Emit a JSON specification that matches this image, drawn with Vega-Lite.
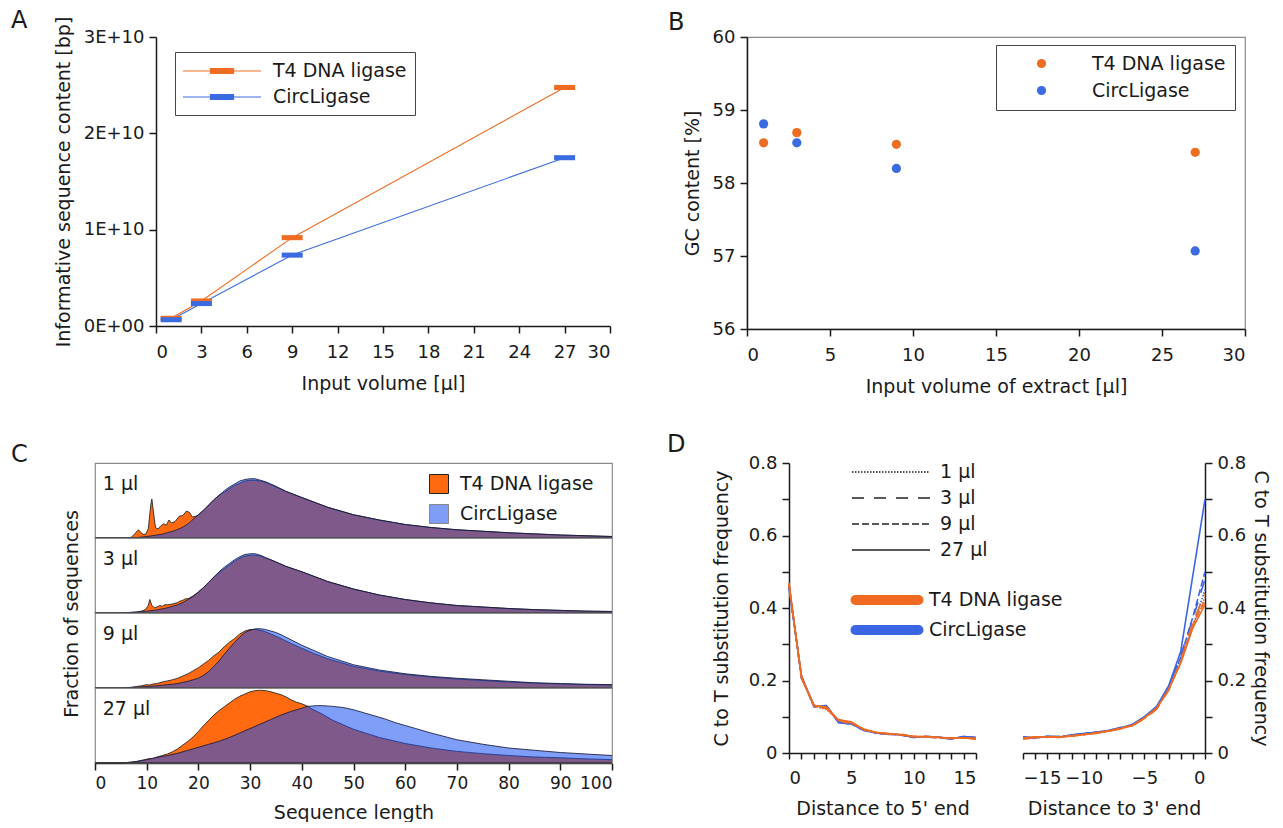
{
 "$schema": "https://vega.github.io/schema/vega-lite/v6.json",
 "background": "white",
 "padding": {"left": 11, "top": 9, "right": 0, "bottom": 0},
 "config": {
  "font": "DejaVu Sans",
  "view": {"stroke": "#8a8a8a", "strokeWidth": 1.2},
  "axis": {"labelFont": "DejaVu Sans", "titleFont": "DejaVu Sans", "labelFontSize": 18, "titleFontSize": 19, "titleFontWeight": "normal", "labelColor": "#1a1a1a", "titleColor": "#1a1a1a", "domainColor": "#1a1a1a", "tickColor": "#1a1a1a", "domainWidth": 1.5, "tickWidth": 1.5, "tickSize": 7, "labelPadding": 5, "titlePadding": 10, "grid": false},
  "legend": {"labelFont": "DejaVu Sans", "labelFontSize": 19, "labelColor": "#1a1a1a", "titleFont": "DejaVu Sans"},
  "title": {"font": "DejaVu Sans", "fontSize": 24, "fontWeight": "normal", "anchor": "start", "frame": "group", "color": "#1a1a1a", "offset": 4},
  "header": {"titleFont": "DejaVu Sans", "titleFontSize": 19, "titleFontWeight": "normal", "titleColor": "#1a1a1a"}
 },
 "resolve": {"scale": {"color": "independent", "opacity": "independent", "strokeDash": "independent"}, "legend": {"color": "independent", "opacity": "independent", "strokeDash": "independent"}},
 "columns": 1,
 "align": "none",
 "spacing": 36,
 "concat": [
  {
   "spacing": 56,
   "resolve": {"scale": {"color": "independent"}, "legend": {"color": "independent"}},
   "hconcat": [
    {
     "title": {"text": "A", "frame": "group", "dx": -84, "dy": 21},
     "width": 515, "height": 289,
     "view": {"stroke": null},
     "encoding": {
      "x": {"field": "vol", "type": "quantitative", "scale": {"domain": [0, 30], "range": [61, 515], "nice": false}, "axis": {"values": [0, 3, 6, 9, 12, 15, 18, 21, 24, 27, 30], "title": "Input volume [µl]", "labelPadding": 10, "titlePadding": 13}},
      "y": {"field": "bp", "type": "quantitative", "scale": {"domain": [0, 30000000000], "nice": false}, "axis": {"offset": -61, "values": [0, 10000000000, 20000000000, 30000000000], "labelExpr": "datum.value == 0 ? '0E+00' : format(datum.value / 1e10, 'd') + 'E+10'", "title": "Informative sequence content [bp]"}}
     },
     "layer": [
      {
       "data": {"values": [{"edge": "top"}]},
       "mark": {"type": "rule", "color": "#8a8a8a", "strokeWidth": 1.2},
       "encoding": {"x": {"datum": 0}, "x2": {"datum": 30}, "y": {"datum": 30000000000}}
      },
      {
       "data": {"values": [{"edge": "right"}]},
       "mark": {"type": "rule", "color": "#8a8a8a", "strokeWidth": 1.2},
       "encoding": {"x": {"datum": 30}, "y": {"datum": 0}, "y2": {"datum": 30000000000}}
      },
      {
       "data": {"name": "seqcontent", "values": [
        {"vol": 1, "lig": "T4 DNA ligase", "bp": 800000000},
        {"vol": 3, "lig": "T4 DNA ligase", "bp": 2600000000},
        {"vol": 9, "lig": "T4 DNA ligase", "bp": 9170000000},
        {"vol": 27, "lig": "T4 DNA ligase", "bp": 24760000000},
        {"vol": 1, "lig": "CircLigase", "bp": 650000000},
        {"vol": 3, "lig": "CircLigase", "bp": 2330000000},
        {"vol": 9, "lig": "CircLigase", "bp": 7360000000},
        {"vol": 27, "lig": "CircLigase", "bp": 17470000000}
       ]},
       "encoding": {
        "color": {"field": "lig", "type": "nominal", "scale": {"domain": ["T4 DNA ligase", "CircLigase"], "range": ["#ef6c23", "#3a6be0"]},
         "legend": {"title": null, "orient": "none", "legendX": 80, "legendY": 15, "strokeColor": "#444", "fillColor": "white", "padding": 8, "symbolType": "M-3.9,0H3.9M-1.15,-0.25H1.15V0.25H-1.15Z", "symbolSize": 400, "symbolStrokeWidth": 1.2, "symbolOffset": 28, "labelOffset": 40, "rowPadding": 5}}
       },
       "layer": [
        {"mark": {"type": "line", "strokeWidth": 1.1}},
        {"mark": {"type": "point", "filled": true, "opacity": 1, "shape": "M-1,-0.24H1V0.24H-1Z", "size": 441}}
       ]
      }
     ]
    },
    {
     "title": {"text": "B", "frame": "group", "dx": -79, "dy": 11},
     "width": 498, "height": 292,
     "data": {"values": [
      {"vol": 1, "lig": "T4 DNA ligase", "gc": 58.55},
      {"vol": 3, "lig": "T4 DNA ligase", "gc": 58.69},
      {"vol": 9, "lig": "T4 DNA ligase", "gc": 58.53},
      {"vol": 27, "lig": "T4 DNA ligase", "gc": 58.42},
      {"vol": 1, "lig": "CircLigase", "gc": 58.81},
      {"vol": 3, "lig": "CircLigase", "gc": 58.55},
      {"vol": 9, "lig": "CircLigase", "gc": 58.2},
      {"vol": 27, "lig": "CircLigase", "gc": 57.07}
     ]},
     "mark": {"type": "point", "filled": true, "opacity": 1, "size": 85},
     "encoding": {
      "x": {"field": "vol", "type": "quantitative", "scale": {"domain": [0, 30], "nice": false}, "axis": {"values": [0, 5, 10, 15, 20, 25, 30], "title": "Input volume of extract [µl]", "labelPadding": 10, "titlePadding": 13}},
      "y": {"field": "gc", "type": "quantitative", "scale": {"domain": [56, 60], "nice": false, "zero": false}, "axis": {"values": [56, 57, 58, 59, 60], "title": "GC content [%]"}},
      "color": {"field": "lig", "type": "nominal", "scale": {"domain": ["T4 DNA ligase", "CircLigase"], "range": ["#ef6c23", "#3a6be0"]},
       "legend": {"title": null, "orient": "none", "legendX": 249, "legendY": 8, "strokeColor": "#444", "fillColor": "white", "padding": 9, "symbolType": "circle", "symbolSize": 85, "symbolOffset": 27, "labelOffset": 41, "rowPadding": 7}}
     }
    }
   ]
  },
  {
   "columns": 2,
   "align": "none",
   "spacing": 52,
   "resolve": {"scale": {"color": "independent", "opacity": "independent", "strokeDash": "independent"}, "legend": {"color": "independent", "opacity": "independent", "strokeDash": "independent"}},
   "concat": [
    {
     "title": {"text": "C", "frame": "group", "dx": -84, "dy": 9},
     "data": {"values": [
      {"v":"1 µl","g":"T4 DNA ligase","x":0,"y":0},{"v":"1 µl","g":"T4 DNA ligase","x":6,"y":0},{"v":"1 µl","g":"T4 DNA ligase","x":7,"y":0.01},{"v":"1 µl","g":"T4 DNA ligase","x":7.5,"y":0.04},{"v":"1 µl","g":"T4 DNA ligase","x":8,"y":0.08},{"v":"1 µl","g":"T4 DNA ligase","x":8.4,"y":0.11},{"v":"1 µl","g":"T4 DNA ligase","x":8.8,"y":0.08},{"v":"1 µl","g":"T4 DNA ligase","x":9.3,"y":0.05},{"v":"1 µl","g":"T4 DNA ligase","x":9.8,"y":0.05},{"v":"1 µl","g":"T4 DNA ligase","x":10.3,"y":0.12},{"v":"1 µl","g":"T4 DNA ligase","x":10.8,"y":0.45},{"v":"1 µl","g":"T4 DNA ligase","x":11,"y":0.52},{"v":"1 µl","g":"T4 DNA ligase","x":11.3,"y":0.35},{"v":"1 µl","g":"T4 DNA ligase","x":11.7,"y":0.14},{"v":"1 µl","g":"T4 DNA ligase","x":12.2,"y":0.12},{"v":"1 µl","g":"T4 DNA ligase","x":12.7,"y":0.16},{"v":"1 µl","g":"T4 DNA ligase","x":13.3,"y":0.19},{"v":"1 µl","g":"T4 DNA ligase","x":13.8,"y":0.17},{"v":"1 µl","g":"T4 DNA ligase","x":14.3,"y":0.24},{"v":"1 µl","g":"T4 DNA ligase","x":14.8,"y":0.2},{"v":"1 µl","g":"T4 DNA ligase","x":15.5,"y":0.22},{"v":"1 µl","g":"T4 DNA ligase","x":16.3,"y":0.29},{"v":"1 µl","g":"T4 DNA ligase","x":17,"y":0.3},{"v":"1 µl","g":"T4 DNA ligase","x":17.7,"y":0.36},{"v":"1 µl","g":"T4 DNA ligase","x":18.3,"y":0.34},{"v":"1 µl","g":"T4 DNA ligase","x":18.8,"y":0.28},{"v":"1 µl","g":"T4 DNA ligase","x":19.5,"y":0.29},{"v":"1 µl","g":"T4 DNA ligase","x":20,"y":0.31},{"v":"1 µl","g":"T4 DNA ligase","x":21,"y":0.37},{"v":"1 µl","g":"T4 DNA ligase","x":22,"y":0.44},{"v":"1 µl","g":"T4 DNA ligase","x":23,"y":0.51},{"v":"1 µl","g":"T4 DNA ligase","x":24,"y":0.57},{"v":"1 µl","g":"T4 DNA ligase","x":25,"y":0.61},{"v":"1 µl","g":"T4 DNA ligase","x":26,"y":0.66},{"v":"1 µl","g":"T4 DNA ligase","x":27,"y":0.7},{"v":"1 µl","g":"T4 DNA ligase","x":28,"y":0.73},{"v":"1 µl","g":"T4 DNA ligase","x":29,"y":0.76},{"v":"1 µl","g":"T4 DNA ligase","x":30,"y":0.77},{"v":"1 µl","g":"T4 DNA ligase","x":31,"y":0.77},{"v":"1 µl","g":"T4 DNA ligase","x":32,"y":0.76},{"v":"1 µl","g":"T4 DNA ligase","x":33,"y":0.74},{"v":"1 µl","g":"T4 DNA ligase","x":34,"y":0.71},{"v":"1 µl","g":"T4 DNA ligase","x":35,"y":0.68},{"v":"1 µl","g":"T4 DNA ligase","x":37,"y":0.62},{"v":"1 µl","g":"T4 DNA ligase","x":40,"y":0.54},{"v":"1 µl","g":"T4 DNA ligase","x":45,"y":0.41},{"v":"1 µl","g":"T4 DNA ligase","x":50,"y":0.31},{"v":"1 µl","g":"T4 DNA ligase","x":55,"y":0.24},{"v":"1 µl","g":"T4 DNA ligase","x":60,"y":0.18},{"v":"1 µl","g":"T4 DNA ligase","x":65,"y":0.14},{"v":"1 µl","g":"T4 DNA ligase","x":70,"y":0.11},{"v":"1 µl","g":"T4 DNA ligase","x":75,"y":0.09},{"v":"1 µl","g":"T4 DNA ligase","x":80,"y":0.07},{"v":"1 µl","g":"T4 DNA ligase","x":85,"y":0.055},{"v":"1 µl","g":"T4 DNA ligase","x":90,"y":0.04},{"v":"1 µl","g":"T4 DNA ligase","x":95,"y":0.03},{"v":"1 µl","g":"T4 DNA ligase","x":100,"y":0.02},
      {"v":"1 µl","g":"CircLigase","x":0,"y":0},{"v":"1 µl","g":"CircLigase","x":6,"y":0},{"v":"1 µl","g":"CircLigase","x":7,"y":0.002},{"v":"1 µl","g":"CircLigase","x":8,"y":0.006},{"v":"1 µl","g":"CircLigase","x":9,"y":0.012},{"v":"1 µl","g":"CircLigase","x":10,"y":0.02},{"v":"1 µl","g":"CircLigase","x":11,"y":0.03},{"v":"1 µl","g":"CircLigase","x":12,"y":0.04},{"v":"1 µl","g":"CircLigase","x":13,"y":0.05},{"v":"1 µl","g":"CircLigase","x":14,"y":0.07},{"v":"1 µl","g":"CircLigase","x":15,"y":0.09},{"v":"1 µl","g":"CircLigase","x":16,"y":0.115},{"v":"1 µl","g":"CircLigase","x":17,"y":0.145},{"v":"1 µl","g":"CircLigase","x":18,"y":0.19},{"v":"1 µl","g":"CircLigase","x":19,"y":0.25},{"v":"1 µl","g":"CircLigase","x":20,"y":0.31},{"v":"1 µl","g":"CircLigase","x":21,"y":0.37},{"v":"1 µl","g":"CircLigase","x":22,"y":0.44},{"v":"1 µl","g":"CircLigase","x":23,"y":0.51},{"v":"1 µl","g":"CircLigase","x":24,"y":0.57},{"v":"1 µl","g":"CircLigase","x":25,"y":0.63},{"v":"1 µl","g":"CircLigase","x":26,"y":0.68},{"v":"1 µl","g":"CircLigase","x":27,"y":0.72},{"v":"1 µl","g":"CircLigase","x":28,"y":0.76},{"v":"1 µl","g":"CircLigase","x":29,"y":0.78},{"v":"1 µl","g":"CircLigase","x":30,"y":0.79},{"v":"1 µl","g":"CircLigase","x":31,"y":0.79},{"v":"1 µl","g":"CircLigase","x":32,"y":0.77},{"v":"1 µl","g":"CircLigase","x":33,"y":0.75},{"v":"1 µl","g":"CircLigase","x":34,"y":0.72},{"v":"1 µl","g":"CircLigase","x":35,"y":0.69},{"v":"1 µl","g":"CircLigase","x":37,"y":0.62},{"v":"1 µl","g":"CircLigase","x":40,"y":0.54},{"v":"1 µl","g":"CircLigase","x":45,"y":0.41},{"v":"1 µl","g":"CircLigase","x":50,"y":0.31},{"v":"1 µl","g":"CircLigase","x":55,"y":0.24},{"v":"1 µl","g":"CircLigase","x":60,"y":0.18},{"v":"1 µl","g":"CircLigase","x":65,"y":0.14},{"v":"1 µl","g":"CircLigase","x":70,"y":0.11},{"v":"1 µl","g":"CircLigase","x":75,"y":0.09},{"v":"1 µl","g":"CircLigase","x":80,"y":0.07},{"v":"1 µl","g":"CircLigase","x":85,"y":0.055},{"v":"1 µl","g":"CircLigase","x":90,"y":0.04},{"v":"1 µl","g":"CircLigase","x":95,"y":0.03},{"v":"1 µl","g":"CircLigase","x":100,"y":0.02},
      {"v":"3 µl","g":"T4 DNA ligase","x":0,"y":0},{"v":"3 µl","g":"T4 DNA ligase","x":5,"y":0},{"v":"3 µl","g":"T4 DNA ligase","x":6,"y":0.005},{"v":"3 µl","g":"T4 DNA ligase","x":7,"y":0.01},{"v":"3 µl","g":"T4 DNA ligase","x":8,"y":0.015},{"v":"3 µl","g":"T4 DNA ligase","x":9,"y":0.025},{"v":"3 µl","g":"T4 DNA ligase","x":9.8,"y":0.05},{"v":"3 µl","g":"T4 DNA ligase","x":10.3,"y":0.1},{"v":"3 µl","g":"T4 DNA ligase","x":10.6,"y":0.18},{"v":"3 µl","g":"T4 DNA ligase","x":11,"y":0.1},{"v":"3 µl","g":"T4 DNA ligase","x":11.5,"y":0.07},{"v":"3 µl","g":"T4 DNA ligase","x":12,"y":0.08},{"v":"3 µl","g":"T4 DNA ligase","x":12.5,"y":0.1},{"v":"3 µl","g":"T4 DNA ligase","x":13,"y":0.09},{"v":"3 µl","g":"T4 DNA ligase","x":13.5,"y":0.11},{"v":"3 µl","g":"T4 DNA ligase","x":14,"y":0.11},{"v":"3 µl","g":"T4 DNA ligase","x":15,"y":0.12},{"v":"3 µl","g":"T4 DNA ligase","x":16,"y":0.14},{"v":"3 µl","g":"T4 DNA ligase","x":16.5,"y":0.16},{"v":"3 µl","g":"T4 DNA ligase","x":17,"y":0.17},{"v":"3 µl","g":"T4 DNA ligase","x":17.5,"y":0.19},{"v":"3 µl","g":"T4 DNA ligase","x":18,"y":0.19},{"v":"3 µl","g":"T4 DNA ligase","x":19,"y":0.23},{"v":"3 µl","g":"T4 DNA ligase","x":20,"y":0.28},{"v":"3 µl","g":"T4 DNA ligase","x":21,"y":0.34},{"v":"3 µl","g":"T4 DNA ligase","x":22,"y":0.41},{"v":"3 µl","g":"T4 DNA ligase","x":23,"y":0.48},{"v":"3 µl","g":"T4 DNA ligase","x":24,"y":0.54},{"v":"3 µl","g":"T4 DNA ligase","x":25,"y":0.59},{"v":"3 µl","g":"T4 DNA ligase","x":26,"y":0.64},{"v":"3 µl","g":"T4 DNA ligase","x":27,"y":0.69},{"v":"3 µl","g":"T4 DNA ligase","x":28,"y":0.73},{"v":"3 µl","g":"T4 DNA ligase","x":29,"y":0.76},{"v":"3 µl","g":"T4 DNA ligase","x":30,"y":0.77},{"v":"3 µl","g":"T4 DNA ligase","x":31,"y":0.77},{"v":"3 µl","g":"T4 DNA ligase","x":32,"y":0.76},{"v":"3 µl","g":"T4 DNA ligase","x":33,"y":0.73},{"v":"3 µl","g":"T4 DNA ligase","x":34,"y":0.71},{"v":"3 µl","g":"T4 DNA ligase","x":35,"y":0.68},{"v":"3 µl","g":"T4 DNA ligase","x":37,"y":0.62},{"v":"3 µl","g":"T4 DNA ligase","x":40,"y":0.55},{"v":"3 µl","g":"T4 DNA ligase","x":45,"y":0.42},{"v":"3 µl","g":"T4 DNA ligase","x":50,"y":0.32},{"v":"3 µl","g":"T4 DNA ligase","x":55,"y":0.24},{"v":"3 µl","g":"T4 DNA ligase","x":60,"y":0.18},{"v":"3 µl","g":"T4 DNA ligase","x":65,"y":0.135},{"v":"3 µl","g":"T4 DNA ligase","x":70,"y":0.1},{"v":"3 µl","g":"T4 DNA ligase","x":75,"y":0.08},{"v":"3 µl","g":"T4 DNA ligase","x":80,"y":0.06},{"v":"3 µl","g":"T4 DNA ligase","x":85,"y":0.045},{"v":"3 µl","g":"T4 DNA ligase","x":90,"y":0.035},{"v":"3 µl","g":"T4 DNA ligase","x":95,"y":0.025},{"v":"3 µl","g":"T4 DNA ligase","x":100,"y":0.02},
      {"v":"3 µl","g":"CircLigase","x":0,"y":0},{"v":"3 µl","g":"CircLigase","x":5,"y":0},{"v":"3 µl","g":"CircLigase","x":6,"y":0.003},{"v":"3 µl","g":"CircLigase","x":8,"y":0.01},{"v":"3 µl","g":"CircLigase","x":10,"y":0.025},{"v":"3 µl","g":"CircLigase","x":12,"y":0.04},{"v":"3 µl","g":"CircLigase","x":13,"y":0.055},{"v":"3 µl","g":"CircLigase","x":14,"y":0.07},{"v":"3 µl","g":"CircLigase","x":15,"y":0.09},{"v":"3 µl","g":"CircLigase","x":16,"y":0.11},{"v":"3 µl","g":"CircLigase","x":17,"y":0.14},{"v":"3 µl","g":"CircLigase","x":18,"y":0.18},{"v":"3 µl","g":"CircLigase","x":19,"y":0.22},{"v":"3 µl","g":"CircLigase","x":20,"y":0.28},{"v":"3 µl","g":"CircLigase","x":21,"y":0.34},{"v":"3 µl","g":"CircLigase","x":22,"y":0.41},{"v":"3 µl","g":"CircLigase","x":23,"y":0.48},{"v":"3 µl","g":"CircLigase","x":24,"y":0.55},{"v":"3 µl","g":"CircLigase","x":25,"y":0.61},{"v":"3 µl","g":"CircLigase","x":26,"y":0.66},{"v":"3 µl","g":"CircLigase","x":27,"y":0.71},{"v":"3 µl","g":"CircLigase","x":28,"y":0.75},{"v":"3 µl","g":"CircLigase","x":29,"y":0.78},{"v":"3 µl","g":"CircLigase","x":30,"y":0.79},{"v":"3 µl","g":"CircLigase","x":31,"y":0.79},{"v":"3 µl","g":"CircLigase","x":32,"y":0.77},{"v":"3 µl","g":"CircLigase","x":33,"y":0.74},{"v":"3 µl","g":"CircLigase","x":34,"y":0.71},{"v":"3 µl","g":"CircLigase","x":35,"y":0.68},{"v":"3 µl","g":"CircLigase","x":37,"y":0.62},{"v":"3 µl","g":"CircLigase","x":40,"y":0.55},{"v":"3 µl","g":"CircLigase","x":45,"y":0.42},{"v":"3 µl","g":"CircLigase","x":50,"y":0.32},{"v":"3 µl","g":"CircLigase","x":55,"y":0.24},{"v":"3 µl","g":"CircLigase","x":60,"y":0.18},{"v":"3 µl","g":"CircLigase","x":65,"y":0.135},{"v":"3 µl","g":"CircLigase","x":70,"y":0.1},{"v":"3 µl","g":"CircLigase","x":75,"y":0.08},{"v":"3 µl","g":"CircLigase","x":80,"y":0.06},{"v":"3 µl","g":"CircLigase","x":85,"y":0.045},{"v":"3 µl","g":"CircLigase","x":90,"y":0.035},{"v":"3 µl","g":"CircLigase","x":95,"y":0.025},{"v":"3 µl","g":"CircLigase","x":100,"y":0.02},
      {"v":"9 µl","g":"T4 DNA ligase","x":0,"y":0},{"v":"9 µl","g":"T4 DNA ligase","x":5,"y":0},{"v":"9 µl","g":"T4 DNA ligase","x":6,"y":0.005},{"v":"9 µl","g":"T4 DNA ligase","x":7,"y":0.01},{"v":"9 µl","g":"T4 DNA ligase","x":8,"y":0.02},{"v":"9 µl","g":"T4 DNA ligase","x":9,"y":0.03},{"v":"9 µl","g":"T4 DNA ligase","x":10,"y":0.045},{"v":"9 µl","g":"T4 DNA ligase","x":10.5,"y":0.04},{"v":"9 µl","g":"T4 DNA ligase","x":11,"y":0.05},{"v":"9 µl","g":"T4 DNA ligase","x":12,"y":0.06},{"v":"9 µl","g":"T4 DNA ligase","x":13,"y":0.08},{"v":"9 µl","g":"T4 DNA ligase","x":14,"y":0.095},{"v":"9 µl","g":"T4 DNA ligase","x":15,"y":0.11},{"v":"9 µl","g":"T4 DNA ligase","x":16,"y":0.13},{"v":"9 µl","g":"T4 DNA ligase","x":17,"y":0.16},{"v":"9 µl","g":"T4 DNA ligase","x":18,"y":0.19},{"v":"9 µl","g":"T4 DNA ligase","x":19,"y":0.23},{"v":"9 µl","g":"T4 DNA ligase","x":20,"y":0.27},{"v":"9 µl","g":"T4 DNA ligase","x":21,"y":0.32},{"v":"9 µl","g":"T4 DNA ligase","x":22,"y":0.37},{"v":"9 µl","g":"T4 DNA ligase","x":23,"y":0.43},{"v":"9 µl","g":"T4 DNA ligase","x":24,"y":0.48},{"v":"9 µl","g":"T4 DNA ligase","x":25,"y":0.55},{"v":"9 µl","g":"T4 DNA ligase","x":26,"y":0.61},{"v":"9 µl","g":"T4 DNA ligase","x":27,"y":0.66},{"v":"9 µl","g":"T4 DNA ligase","x":28,"y":0.72},{"v":"9 µl","g":"T4 DNA ligase","x":29,"y":0.76},{"v":"9 µl","g":"T4 DNA ligase","x":30,"y":0.78},{"v":"9 µl","g":"T4 DNA ligase","x":31,"y":0.78},{"v":"9 µl","g":"T4 DNA ligase","x":32,"y":0.77},{"v":"9 µl","g":"T4 DNA ligase","x":33,"y":0.75},{"v":"9 µl","g":"T4 DNA ligase","x":34,"y":0.72},{"v":"9 µl","g":"T4 DNA ligase","x":35,"y":0.69},{"v":"9 µl","g":"T4 DNA ligase","x":36,"y":0.66},{"v":"9 µl","g":"T4 DNA ligase","x":38,"y":0.59},{"v":"9 µl","g":"T4 DNA ligase","x":40,"y":0.53},{"v":"9 µl","g":"T4 DNA ligase","x":42,"y":0.47},{"v":"9 µl","g":"T4 DNA ligase","x":45,"y":0.39},{"v":"9 µl","g":"T4 DNA ligase","x":50,"y":0.29},{"v":"9 µl","g":"T4 DNA ligase","x":55,"y":0.225},{"v":"9 µl","g":"T4 DNA ligase","x":60,"y":0.18},{"v":"9 µl","g":"T4 DNA ligase","x":65,"y":0.145},{"v":"9 µl","g":"T4 DNA ligase","x":70,"y":0.12},{"v":"9 µl","g":"T4 DNA ligase","x":75,"y":0.1},{"v":"9 µl","g":"T4 DNA ligase","x":80,"y":0.08},{"v":"9 µl","g":"T4 DNA ligase","x":85,"y":0.065},{"v":"9 µl","g":"T4 DNA ligase","x":90,"y":0.055},{"v":"9 µl","g":"T4 DNA ligase","x":95,"y":0.045},{"v":"9 µl","g":"T4 DNA ligase","x":100,"y":0.04},
      {"v":"9 µl","g":"CircLigase","x":0,"y":0},{"v":"9 µl","g":"CircLigase","x":5,"y":0},{"v":"9 µl","g":"CircLigase","x":6,"y":0.003},{"v":"9 µl","g":"CircLigase","x":8,"y":0.01},{"v":"9 µl","g":"CircLigase","x":10,"y":0.02},{"v":"9 µl","g":"CircLigase","x":12,"y":0.03},{"v":"9 µl","g":"CircLigase","x":14,"y":0.045},{"v":"9 µl","g":"CircLigase","x":15,"y":0.05},{"v":"9 µl","g":"CircLigase","x":16,"y":0.06},{"v":"9 µl","g":"CircLigase","x":17,"y":0.075},{"v":"9 µl","g":"CircLigase","x":18,"y":0.09},{"v":"9 µl","g":"CircLigase","x":19,"y":0.11},{"v":"9 µl","g":"CircLigase","x":20,"y":0.13},{"v":"9 µl","g":"CircLigase","x":21,"y":0.17},{"v":"9 µl","g":"CircLigase","x":22,"y":0.22},{"v":"9 µl","g":"CircLigase","x":23,"y":0.29},{"v":"9 µl","g":"CircLigase","x":24,"y":0.36},{"v":"9 µl","g":"CircLigase","x":25,"y":0.45},{"v":"9 µl","g":"CircLigase","x":26,"y":0.53},{"v":"9 µl","g":"CircLigase","x":27,"y":0.61},{"v":"9 µl","g":"CircLigase","x":28,"y":0.68},{"v":"9 µl","g":"CircLigase","x":29,"y":0.74},{"v":"9 µl","g":"CircLigase","x":30,"y":0.77},{"v":"9 µl","g":"CircLigase","x":31,"y":0.79},{"v":"9 µl","g":"CircLigase","x":32,"y":0.79},{"v":"9 µl","g":"CircLigase","x":33,"y":0.78},{"v":"9 µl","g":"CircLigase","x":34,"y":0.76},{"v":"9 µl","g":"CircLigase","x":35,"y":0.74},{"v":"9 µl","g":"CircLigase","x":36,"y":0.71},{"v":"9 µl","g":"CircLigase","x":38,"y":0.64},{"v":"9 µl","g":"CircLigase","x":40,"y":0.57},{"v":"9 µl","g":"CircLigase","x":42,"y":0.51},{"v":"9 µl","g":"CircLigase","x":45,"y":0.42},{"v":"9 µl","g":"CircLigase","x":50,"y":0.31},{"v":"9 µl","g":"CircLigase","x":55,"y":0.24},{"v":"9 µl","g":"CircLigase","x":60,"y":0.19},{"v":"9 µl","g":"CircLigase","x":65,"y":0.155},{"v":"9 µl","g":"CircLigase","x":70,"y":0.13},{"v":"9 µl","g":"CircLigase","x":75,"y":0.11},{"v":"9 µl","g":"CircLigase","x":80,"y":0.09},{"v":"9 µl","g":"CircLigase","x":85,"y":0.07},{"v":"9 µl","g":"CircLigase","x":90,"y":0.06},{"v":"9 µl","g":"CircLigase","x":95,"y":0.05},{"v":"9 µl","g":"CircLigase","x":100,"y":0.045},
      {"v":"27 µl","g":"T4 DNA ligase","x":0,"y":0},{"v":"27 µl","g":"T4 DNA ligase","x":5,"y":0},{"v":"27 µl","g":"T4 DNA ligase","x":6,"y":0.005},{"v":"27 µl","g":"T4 DNA ligase","x":7,"y":0.01},{"v":"27 µl","g":"T4 DNA ligase","x":8,"y":0.02},{"v":"27 µl","g":"T4 DNA ligase","x":9,"y":0.035},{"v":"27 µl","g":"T4 DNA ligase","x":10,"y":0.05},{"v":"27 µl","g":"T4 DNA ligase","x":10.5,"y":0.06},{"v":"27 µl","g":"T4 DNA ligase","x":11,"y":0.055},{"v":"27 µl","g":"T4 DNA ligase","x":12,"y":0.08},{"v":"27 µl","g":"T4 DNA ligase","x":13,"y":0.1},{"v":"27 µl","g":"T4 DNA ligase","x":14,"y":0.12},{"v":"27 µl","g":"T4 DNA ligase","x":15,"y":0.15},{"v":"27 µl","g":"T4 DNA ligase","x":16,"y":0.19},{"v":"27 µl","g":"T4 DNA ligase","x":17,"y":0.24},{"v":"27 µl","g":"T4 DNA ligase","x":18,"y":0.29},{"v":"27 µl","g":"T4 DNA ligase","x":19,"y":0.35},{"v":"27 µl","g":"T4 DNA ligase","x":20,"y":0.42},{"v":"27 µl","g":"T4 DNA ligase","x":21,"y":0.5},{"v":"27 µl","g":"T4 DNA ligase","x":22,"y":0.57},{"v":"27 µl","g":"T4 DNA ligase","x":23,"y":0.64},{"v":"27 µl","g":"T4 DNA ligase","x":24,"y":0.7},{"v":"27 µl","g":"T4 DNA ligase","x":25,"y":0.75},{"v":"27 µl","g":"T4 DNA ligase","x":26,"y":0.8},{"v":"27 µl","g":"T4 DNA ligase","x":27,"y":0.85},{"v":"27 µl","g":"T4 DNA ligase","x":28,"y":0.89},{"v":"27 µl","g":"T4 DNA ligase","x":29,"y":0.92},{"v":"27 µl","g":"T4 DNA ligase","x":30,"y":0.95},{"v":"27 µl","g":"T4 DNA ligase","x":31,"y":0.965},{"v":"27 µl","g":"T4 DNA ligase","x":32,"y":0.97},{"v":"27 µl","g":"T4 DNA ligase","x":33,"y":0.965},{"v":"27 µl","g":"T4 DNA ligase","x":34,"y":0.95},{"v":"27 µl","g":"T4 DNA ligase","x":35,"y":0.93},{"v":"27 µl","g":"T4 DNA ligase","x":36,"y":0.91},{"v":"27 µl","g":"T4 DNA ligase","x":37,"y":0.88},{"v":"27 µl","g":"T4 DNA ligase","x":38,"y":0.84},{"v":"27 µl","g":"T4 DNA ligase","x":39,"y":0.81},{"v":"27 µl","g":"T4 DNA ligase","x":40,"y":0.79},{"v":"27 µl","g":"T4 DNA ligase","x":41,"y":0.76},{"v":"27 µl","g":"T4 DNA ligase","x":42,"y":0.72},{"v":"27 µl","g":"T4 DNA ligase","x":44,"y":0.65},{"v":"27 µl","g":"T4 DNA ligase","x":46,"y":0.57},{"v":"27 µl","g":"T4 DNA ligase","x":48,"y":0.51},{"v":"27 µl","g":"T4 DNA ligase","x":50,"y":0.45},{"v":"27 µl","g":"T4 DNA ligase","x":55,"y":0.34},{"v":"27 µl","g":"T4 DNA ligase","x":60,"y":0.26},{"v":"27 µl","g":"T4 DNA ligase","x":65,"y":0.2},{"v":"27 µl","g":"T4 DNA ligase","x":70,"y":0.155},{"v":"27 µl","g":"T4 DNA ligase","x":75,"y":0.125},{"v":"27 µl","g":"T4 DNA ligase","x":80,"y":0.1},{"v":"27 µl","g":"T4 DNA ligase","x":85,"y":0.08},{"v":"27 µl","g":"T4 DNA ligase","x":90,"y":0.07},{"v":"27 µl","g":"T4 DNA ligase","x":95,"y":0.055},{"v":"27 µl","g":"T4 DNA ligase","x":100,"y":0.045},
      {"v":"27 µl","g":"CircLigase","x":0,"y":0},{"v":"27 µl","g":"CircLigase","x":5,"y":0},{"v":"27 µl","g":"CircLigase","x":6,"y":0.005},{"v":"27 µl","g":"CircLigase","x":8,"y":0.02},{"v":"27 µl","g":"CircLigase","x":10,"y":0.045},{"v":"27 µl","g":"CircLigase","x":12,"y":0.075},{"v":"27 µl","g":"CircLigase","x":14,"y":0.1},{"v":"27 µl","g":"CircLigase","x":16,"y":0.13},{"v":"27 µl","g":"CircLigase","x":18,"y":0.17},{"v":"27 µl","g":"CircLigase","x":20,"y":0.21},{"v":"27 µl","g":"CircLigase","x":22,"y":0.25},{"v":"27 µl","g":"CircLigase","x":24,"y":0.29},{"v":"27 µl","g":"CircLigase","x":26,"y":0.34},{"v":"27 µl","g":"CircLigase","x":28,"y":0.4},{"v":"27 µl","g":"CircLigase","x":30,"y":0.46},{"v":"27 µl","g":"CircLigase","x":32,"y":0.52},{"v":"27 µl","g":"CircLigase","x":34,"y":0.58},{"v":"27 µl","g":"CircLigase","x":36,"y":0.64},{"v":"27 µl","g":"CircLigase","x":38,"y":0.69},{"v":"27 µl","g":"CircLigase","x":40,"y":0.73},{"v":"27 µl","g":"CircLigase","x":41,"y":0.755},{"v":"27 µl","g":"CircLigase","x":42,"y":0.76},{"v":"27 µl","g":"CircLigase","x":43,"y":0.765},{"v":"27 µl","g":"CircLigase","x":44,"y":0.765},{"v":"27 µl","g":"CircLigase","x":45,"y":0.76},{"v":"27 µl","g":"CircLigase","x":46,"y":0.755},{"v":"27 µl","g":"CircLigase","x":48,"y":0.74},{"v":"27 µl","g":"CircLigase","x":50,"y":0.71},{"v":"27 µl","g":"CircLigase","x":52,"y":0.67},{"v":"27 µl","g":"CircLigase","x":54,"y":0.63},{"v":"27 µl","g":"CircLigase","x":56,"y":0.59},{"v":"27 µl","g":"CircLigase","x":58,"y":0.54},{"v":"27 µl","g":"CircLigase","x":60,"y":0.5},{"v":"27 µl","g":"CircLigase","x":62,"y":0.46},{"v":"27 µl","g":"CircLigase","x":65,"y":0.4},{"v":"27 µl","g":"CircLigase","x":70,"y":0.31},{"v":"27 µl","g":"CircLigase","x":75,"y":0.25},{"v":"27 µl","g":"CircLigase","x":80,"y":0.2},{"v":"27 µl","g":"CircLigase","x":85,"y":0.17},{"v":"27 µl","g":"CircLigase","x":90,"y":0.14},{"v":"27 µl","g":"CircLigase","x":95,"y":0.12},{"v":"27 µl","g":"CircLigase","x":100,"y":0.1}
     ]},
     "facet": {"row": {"field": "v", "type": "nominal", "sort": ["1 µl", "3 µl", "9 µl", "27 µl"], "title": "Fraction of sequences", "header": {"labels": false, "titleOrient": "left", "titlePadding": 3}}},
     "spacing": 0,
     "bounds": "flush",
     "spec": {
      "width": 517, "height": 75,
      "encoding": {
       "x": {"field": "x", "type": "quantitative", "scale": {"domain": [0, 100], "nice": false}, "axis": {"values": [0, 10, 20, 30, 40, 50, 60, 70, 80, 90, 100], "title": "Sequence length", "labelFontSize": 17, "labelPadding": 5, "titlePadding": 12}},
       "y": {"field": "y", "type": "quantitative", "scale": {"domain": [0, 1], "nice": false}, "axis": null}
      },
      "layer": [
       {"transform": [{"filter": "datum.g == 'T4 DNA ligase'"}],
        "mark": {"type": "area", "interpolate": "linear"},
        "encoding": {
         "y": {"field": "y", "type": "quantitative", "stack": null},
         "color": {"field": "g", "type": "nominal", "scale": {"domain": ["T4 DNA ligase", "CircLigase"], "range": ["#ff6a10", "#114cf2"]}, "legend": {"title": null, "orient": "none", "legendX": 334, "legendY": 11, "symbolType": "square", "symbolSize": 361, "labelOffset": 11, "rowPadding": 6, "encode": {"symbols": {"update": {"stroke": {"value": "#222"}, "strokeWidth": {"value": 1}}}}}},
         "opacity": {"field": "g", "type": "nominal", "scale": {"domain": ["T4 DNA ligase", "CircLigase"], "range": [1, 0.54]}}
        }},
       {"transform": [{"filter": "datum.g == 'T4 DNA ligase'"}],
        "mark": {"type": "line", "stroke": "#202020", "strokeWidth": 1, "opacity": 0.85}},
       {"transform": [{"filter": "datum.g == 'CircLigase'"}],
        "mark": {"type": "area", "interpolate": "linear"},
        "encoding": {
         "y": {"field": "y", "type": "quantitative", "stack": null},
         "color": {"field": "g", "type": "nominal", "scale": {"domain": ["T4 DNA ligase", "CircLigase"], "range": ["#ff6a10", "#114cf2"]}, "legend": {"title": null, "orient": "none", "legendX": 334, "legendY": 11, "symbolType": "square", "symbolSize": 361, "labelOffset": 11, "rowPadding": 6, "encode": {"symbols": {"update": {"stroke": {"value": "#222"}, "strokeWidth": {"value": 1}}}}}},
         "opacity": {"field": "g", "type": "nominal", "scale": {"domain": ["T4 DNA ligase", "CircLigase"], "range": [1, 0.54]}}
        }},
       {"transform": [{"filter": "datum.g == 'CircLigase'"}],
        "mark": {"type": "line", "stroke": "#1a1a3a", "strokeWidth": 1, "opacity": 0.85}},
       {"transform": [{"filter": "datum.g == 'T4 DNA ligase' && datum.x == 0"}],
        "mark": {"type": "rule", "color": "#333", "strokeWidth": 1.5},
        "encoding": {"x": {"datum": 0}, "x2": {"datum": 100}, "y": {"datum": 0}}},
       {"transform": [{"filter": "datum.g == 'T4 DNA ligase' && datum.x == 0"}],
        "mark": {"type": "text", "align": "left", "baseline": "middle", "fontSize": 19, "color": "#1a1a1a"},
        "encoding": {"x": {"datum": 1.5}, "y": {"datum": 0.715}, "text": {"field": "v"}}}
      ]
     }
    },
    {
     "spacing": 47,
     "bounds": "flush",
     "resolve": {"scale": {"color": "independent", "strokeDash": "independent"}, "legend": {"color": "independent", "strokeDash": "independent"}},
     "hconcat": [
      {
       "title": {"text": "D", "frame": "group", "dx": -122, "dy": 7},
       "width": 187, "height": 290,
       "view": {"stroke": null},
       "data": {"values": [
        {"g":"T4 DNA ligase","v":"1 µl","d":0,"f":0.46},{"g":"T4 DNA ligase","v":"1 µl","d":1,"f":0.215},{"g":"T4 DNA ligase","v":"1 µl","d":2,"f":0.128},{"g":"T4 DNA ligase","v":"1 µl","d":3,"f":0.12},{"g":"T4 DNA ligase","v":"1 µl","d":4,"f":0.09},{"g":"T4 DNA ligase","v":"1 µl","d":5,"f":0.083},{"g":"T4 DNA ligase","v":"1 µl","d":6,"f":0.066},{"g":"T4 DNA ligase","v":"1 µl","d":7,"f":0.057},{"g":"T4 DNA ligase","v":"1 µl","d":8,"f":0.054},{"g":"T4 DNA ligase","v":"1 µl","d":9,"f":0.05},{"g":"T4 DNA ligase","v":"1 µl","d":10,"f":0.046},{"g":"T4 DNA ligase","v":"1 µl","d":11,"f":0.045},{"g":"T4 DNA ligase","v":"1 µl","d":12,"f":0.044},{"g":"T4 DNA ligase","v":"1 µl","d":13,"f":0.041},{"g":"T4 DNA ligase","v":"1 µl","d":14,"f":0.042},{"g":"T4 DNA ligase","v":"1 µl","d":15,"f":0.041},
        {"g":"T4 DNA ligase","v":"3 µl","d":0,"f":0.465},{"g":"T4 DNA ligase","v":"3 µl","d":1,"f":0.21},{"g":"T4 DNA ligase","v":"3 µl","d":2,"f":0.13},{"g":"T4 DNA ligase","v":"3 µl","d":3,"f":0.122},{"g":"T4 DNA ligase","v":"3 µl","d":4,"f":0.092},{"g":"T4 DNA ligase","v":"3 µl","d":5,"f":0.085},{"g":"T4 DNA ligase","v":"3 µl","d":6,"f":0.064},{"g":"T4 DNA ligase","v":"3 µl","d":7,"f":0.055},{"g":"T4 DNA ligase","v":"3 µl","d":8,"f":0.053},{"g":"T4 DNA ligase","v":"3 µl","d":9,"f":0.052},{"g":"T4 DNA ligase","v":"3 µl","d":10,"f":0.044},{"g":"T4 DNA ligase","v":"3 µl","d":11,"f":0.046},{"g":"T4 DNA ligase","v":"3 µl","d":12,"f":0.043},{"g":"T4 DNA ligase","v":"3 µl","d":13,"f":0.04},{"g":"T4 DNA ligase","v":"3 µl","d":14,"f":0.043},{"g":"T4 DNA ligase","v":"3 µl","d":15,"f":0.039},
        {"g":"T4 DNA ligase","v":"9 µl","d":0,"f":0.47},{"g":"T4 DNA ligase","v":"9 µl","d":1,"f":0.205},{"g":"T4 DNA ligase","v":"9 µl","d":2,"f":0.133},{"g":"T4 DNA ligase","v":"9 µl","d":3,"f":0.125},{"g":"T4 DNA ligase","v":"9 µl","d":4,"f":0.088},{"g":"T4 DNA ligase","v":"9 µl","d":5,"f":0.081},{"g":"T4 DNA ligase","v":"9 µl","d":6,"f":0.066},{"g":"T4 DNA ligase","v":"9 µl","d":7,"f":0.056},{"g":"T4 DNA ligase","v":"9 µl","d":8,"f":0.052},{"g":"T4 DNA ligase","v":"9 µl","d":9,"f":0.05},{"g":"T4 DNA ligase","v":"9 µl","d":10,"f":0.045},{"g":"T4 DNA ligase","v":"9 µl","d":11,"f":0.044},{"g":"T4 DNA ligase","v":"9 µl","d":12,"f":0.042},{"g":"T4 DNA ligase","v":"9 µl","d":13,"f":0.042},{"g":"T4 DNA ligase","v":"9 µl","d":14,"f":0.041},{"g":"T4 DNA ligase","v":"9 µl","d":15,"f":0.04},
        {"g":"T4 DNA ligase","v":"27 µl","d":0,"f":0.468},{"g":"T4 DNA ligase","v":"27 µl","d":1,"f":0.208},{"g":"T4 DNA ligase","v":"27 µl","d":2,"f":0.13},{"g":"T4 DNA ligase","v":"27 µl","d":3,"f":0.127},{"g":"T4 DNA ligase","v":"27 µl","d":4,"f":0.09},{"g":"T4 DNA ligase","v":"27 µl","d":5,"f":0.086},{"g":"T4 DNA ligase","v":"27 µl","d":6,"f":0.065},{"g":"T4 DNA ligase","v":"27 µl","d":7,"f":0.057},{"g":"T4 DNA ligase","v":"27 µl","d":8,"f":0.053},{"g":"T4 DNA ligase","v":"27 µl","d":9,"f":0.051},{"g":"T4 DNA ligase","v":"27 µl","d":10,"f":0.046},{"g":"T4 DNA ligase","v":"27 µl","d":11,"f":0.045},{"g":"T4 DNA ligase","v":"27 µl","d":12,"f":0.043},{"g":"T4 DNA ligase","v":"27 µl","d":13,"f":0.04},{"g":"T4 DNA ligase","v":"27 µl","d":14,"f":0.042},{"g":"T4 DNA ligase","v":"27 µl","d":15,"f":0.038},
        {"g":"CircLigase","v":"1 µl","d":0,"f":0.455},{"g":"CircLigase","v":"1 µl","d":1,"f":0.212},{"g":"CircLigase","v":"1 µl","d":2,"f":0.128},{"g":"CircLigase","v":"1 µl","d":3,"f":0.13},{"g":"CircLigase","v":"1 µl","d":4,"f":0.085},{"g":"CircLigase","v":"1 µl","d":5,"f":0.08},{"g":"CircLigase","v":"1 µl","d":6,"f":0.063},{"g":"CircLigase","v":"1 µl","d":7,"f":0.055},{"g":"CircLigase","v":"1 µl","d":8,"f":0.052},{"g":"CircLigase","v":"1 µl","d":9,"f":0.05},{"g":"CircLigase","v":"1 µl","d":10,"f":0.043},{"g":"CircLigase","v":"1 µl","d":11,"f":0.045},{"g":"CircLigase","v":"1 µl","d":12,"f":0.044},{"g":"CircLigase","v":"1 µl","d":13,"f":0.04},{"g":"CircLigase","v":"1 µl","d":14,"f":0.045},{"g":"CircLigase","v":"1 µl","d":15,"f":0.042},
        {"g":"CircLigase","v":"3 µl","d":0,"f":0.46},{"g":"CircLigase","v":"3 µl","d":1,"f":0.206},{"g":"CircLigase","v":"3 µl","d":2,"f":0.132},{"g":"CircLigase","v":"3 µl","d":3,"f":0.131},{"g":"CircLigase","v":"3 µl","d":4,"f":0.086},{"g":"CircLigase","v":"3 µl","d":5,"f":0.079},{"g":"CircLigase","v":"3 µl","d":6,"f":0.062},{"g":"CircLigase","v":"3 µl","d":7,"f":0.055},{"g":"CircLigase","v":"3 µl","d":8,"f":0.051},{"g":"CircLigase","v":"3 µl","d":9,"f":0.051},{"g":"CircLigase","v":"3 µl","d":10,"f":0.042},{"g":"CircLigase","v":"3 µl","d":11,"f":0.046},{"g":"CircLigase","v":"3 µl","d":12,"f":0.043},{"g":"CircLigase","v":"3 µl","d":13,"f":0.039},{"g":"CircLigase","v":"3 µl","d":14,"f":0.046},{"g":"CircLigase","v":"3 µl","d":15,"f":0.041},
        {"g":"CircLigase","v":"9 µl","d":0,"f":0.462},{"g":"CircLigase","v":"9 µl","d":1,"f":0.21},{"g":"CircLigase","v":"9 µl","d":2,"f":0.127},{"g":"CircLigase","v":"9 µl","d":3,"f":0.128},{"g":"CircLigase","v":"9 µl","d":4,"f":0.084},{"g":"CircLigase","v":"9 µl","d":5,"f":0.08},{"g":"CircLigase","v":"9 µl","d":6,"f":0.064},{"g":"CircLigase","v":"9 µl","d":7,"f":0.054},{"g":"CircLigase","v":"9 µl","d":8,"f":0.052},{"g":"CircLigase","v":"9 µl","d":9,"f":0.049},{"g":"CircLigase","v":"9 µl","d":10,"f":0.043},{"g":"CircLigase","v":"9 µl","d":11,"f":0.044},{"g":"CircLigase","v":"9 µl","d":12,"f":0.042},{"g":"CircLigase","v":"9 µl","d":13,"f":0.04},{"g":"CircLigase","v":"9 µl","d":14,"f":0.045},{"g":"CircLigase","v":"9 µl","d":15,"f":0.043},
        {"g":"CircLigase","v":"27 µl","d":0,"f":0.458},{"g":"CircLigase","v":"27 µl","d":1,"f":0.213},{"g":"CircLigase","v":"27 µl","d":2,"f":0.13},{"g":"CircLigase","v":"27 µl","d":3,"f":0.129},{"g":"CircLigase","v":"27 µl","d":4,"f":0.083},{"g":"CircLigase","v":"27 µl","d":5,"f":0.081},{"g":"CircLigase","v":"27 µl","d":6,"f":0.063},{"g":"CircLigase","v":"27 µl","d":7,"f":0.056},{"g":"CircLigase","v":"27 µl","d":8,"f":0.053},{"g":"CircLigase","v":"27 µl","d":9,"f":0.05},{"g":"CircLigase","v":"27 µl","d":10,"f":0.044},{"g":"CircLigase","v":"27 µl","d":11,"f":0.045},{"g":"CircLigase","v":"27 µl","d":12,"f":0.044},{"g":"CircLigase","v":"27 µl","d":13,"f":0.038},{"g":"CircLigase","v":"27 µl","d":14,"f":0.046},{"g":"CircLigase","v":"27 µl","d":15,"f":0.042}
       ]},
       "encoding": {
        "x": {"field": "d", "type": "quantitative", "scale": {"domain": [0, 15], "nice": false}, "axis": {"values": [0,1,2,3,4,5,6,7,8,9,10,11,12,13,14,15], "labelExpr": "datum.value % 5 === 0 ? datum.label : ''", "title": "Distance to 5' end", "tickSize": 6, "labelPadding": 10, "titlePadding": 12}},
        "y": {"field": "f", "type": "quantitative", "scale": {"domain": [0, 0.8], "nice": false}, "axis": {"values": [0,0.1,0.2,0.3,0.4,0.5,0.6,0.7,0.8], "labelExpr": "round(datum.value * 10) % 2 === 0 ? format(datum.value, '~g') : ''", "title": "C to T substitution frequency", "titlePadding": 17}},
        "color": {"field": "g", "type": "nominal", "scale": {"domain": ["T4 DNA ligase", "CircLigase"], "range": ["#f06a22", "#3a66e4"]},
         "legend": {"title": null, "orient": "none", "legendX": 62, "legendY": 127, "symbolType": "M-6.3,0H6.3", "symbolSize": 100, "symbolStrokeWidth": 10, "symbolOffset": 26, "labelOffset": 32, "rowPadding": -16, "encode": {"symbols": {"update": {"strokeCap": {"value": "round"}}}}}},
        "strokeDash": {"field": "v", "type": "nominal", "scale": {"domain": ["1 µl", "3 µl", "9 µl", "27 µl"], "range": [[1.5, 1.5], [12, 10], [7, 3], [1, 0]]},
         "legend": {"title": null, "orient": "none", "legendX": 63, "legendY": -2, "symbolType": "M-3.9,0H3.9", "symbolSize": 400, "symbolStrokeColor": "#222", "symbolStrokeWidth": 1.3, "symbolOffset": 28, "labelOffset": 38, "rowPadding": 5}}
       },
       "layer": [
        {"transform": [{"filter": "datum.g == 'CircLigase'"}], "mark": {"type": "line", "strokeWidth": 1.6}},
        {"transform": [{"filter": "datum.g == 'T4 DNA ligase'"}], "mark": {"type": "line", "strokeWidth": 1.6}}
       ]
      },
      {
       "width": 182, "height": 290,
       "view": {"stroke": null},
       "data": {"values": [
        {"g":"T4 DNA ligase","v":"1 µl","d":-15,"f":0.042},{"g":"T4 DNA ligase","v":"1 µl","d":-14,"f":0.044},{"g":"T4 DNA ligase","v":"1 µl","d":-13,"f":0.043},{"g":"T4 DNA ligase","v":"1 µl","d":-12,"f":0.045},{"g":"T4 DNA ligase","v":"1 µl","d":-11,"f":0.046},{"g":"T4 DNA ligase","v":"1 µl","d":-10,"f":0.05},{"g":"T4 DNA ligase","v":"1 µl","d":-9,"f":0.055},{"g":"T4 DNA ligase","v":"1 µl","d":-8,"f":0.06},{"g":"T4 DNA ligase","v":"1 µl","d":-7,"f":0.067},{"g":"T4 DNA ligase","v":"1 µl","d":-6,"f":0.076},{"g":"T4 DNA ligase","v":"1 µl","d":-5,"f":0.096},{"g":"T4 DNA ligase","v":"1 µl","d":-4,"f":0.122},{"g":"T4 DNA ligase","v":"1 µl","d":-3,"f":0.175},{"g":"T4 DNA ligase","v":"1 µl","d":-2,"f":0.25},{"g":"T4 DNA ligase","v":"1 µl","d":-1,"f":0.35},{"g":"T4 DNA ligase","v":"1 µl","d":0,"f":0.43},
        {"g":"T4 DNA ligase","v":"3 µl","d":-15,"f":0.04},{"g":"T4 DNA ligase","v":"3 µl","d":-14,"f":0.043},{"g":"T4 DNA ligase","v":"3 µl","d":-13,"f":0.044},{"g":"T4 DNA ligase","v":"3 µl","d":-12,"f":0.046},{"g":"T4 DNA ligase","v":"3 µl","d":-11,"f":0.047},{"g":"T4 DNA ligase","v":"3 µl","d":-10,"f":0.052},{"g":"T4 DNA ligase","v":"3 µl","d":-9,"f":0.054},{"g":"T4 DNA ligase","v":"3 µl","d":-8,"f":0.059},{"g":"T4 DNA ligase","v":"3 µl","d":-7,"f":0.066},{"g":"T4 DNA ligase","v":"3 µl","d":-6,"f":0.075},{"g":"T4 DNA ligase","v":"3 µl","d":-5,"f":0.094},{"g":"T4 DNA ligase","v":"3 µl","d":-4,"f":0.12},{"g":"T4 DNA ligase","v":"3 µl","d":-3,"f":0.172},{"g":"T4 DNA ligase","v":"3 µl","d":-2,"f":0.255},{"g":"T4 DNA ligase","v":"3 µl","d":-1,"f":0.36},{"g":"T4 DNA ligase","v":"3 µl","d":0,"f":0.44},
        {"g":"T4 DNA ligase","v":"9 µl","d":-15,"f":0.038},{"g":"T4 DNA ligase","v":"9 µl","d":-14,"f":0.042},{"g":"T4 DNA ligase","v":"9 µl","d":-13,"f":0.045},{"g":"T4 DNA ligase","v":"9 µl","d":-12,"f":0.044},{"g":"T4 DNA ligase","v":"9 µl","d":-11,"f":0.048},{"g":"T4 DNA ligase","v":"9 µl","d":-10,"f":0.05},{"g":"T4 DNA ligase","v":"9 µl","d":-9,"f":0.056},{"g":"T4 DNA ligase","v":"9 µl","d":-8,"f":0.061},{"g":"T4 DNA ligase","v":"9 µl","d":-7,"f":0.068},{"g":"T4 DNA ligase","v":"9 µl","d":-6,"f":0.077},{"g":"T4 DNA ligase","v":"9 µl","d":-5,"f":0.095},{"g":"T4 DNA ligase","v":"9 µl","d":-4,"f":0.121},{"g":"T4 DNA ligase","v":"9 µl","d":-3,"f":0.176},{"g":"T4 DNA ligase","v":"9 µl","d":-2,"f":0.252},{"g":"T4 DNA ligase","v":"9 µl","d":-1,"f":0.355},{"g":"T4 DNA ligase","v":"9 µl","d":0,"f":0.42},
        {"g":"T4 DNA ligase","v":"27 µl","d":-15,"f":0.041},{"g":"T4 DNA ligase","v":"27 µl","d":-14,"f":0.045},{"g":"T4 DNA ligase","v":"27 µl","d":-13,"f":0.044},{"g":"T4 DNA ligase","v":"27 µl","d":-12,"f":0.043},{"g":"T4 DNA ligase","v":"27 µl","d":-11,"f":0.047},{"g":"T4 DNA ligase","v":"27 µl","d":-10,"f":0.051},{"g":"T4 DNA ligase","v":"27 µl","d":-9,"f":0.055},{"g":"T4 DNA ligase","v":"27 µl","d":-8,"f":0.06},{"g":"T4 DNA ligase","v":"27 µl","d":-7,"f":0.067},{"g":"T4 DNA ligase","v":"27 µl","d":-6,"f":0.075},{"g":"T4 DNA ligase","v":"27 µl","d":-5,"f":0.097},{"g":"T4 DNA ligase","v":"27 µl","d":-4,"f":0.123},{"g":"T4 DNA ligase","v":"27 µl","d":-3,"f":0.174},{"g":"T4 DNA ligase","v":"27 µl","d":-2,"f":0.248},{"g":"T4 DNA ligase","v":"27 µl","d":-1,"f":0.345},{"g":"T4 DNA ligase","v":"27 µl","d":0,"f":0.41},
        {"g":"CircLigase","v":"1 µl","d":-15,"f":0.043},{"g":"CircLigase","v":"1 µl","d":-14,"f":0.041},{"g":"CircLigase","v":"1 µl","d":-13,"f":0.045},{"g":"CircLigase","v":"1 µl","d":-12,"f":0.044},{"g":"CircLigase","v":"1 µl","d":-11,"f":0.048},{"g":"CircLigase","v":"1 µl","d":-10,"f":0.052},{"g":"CircLigase","v":"1 µl","d":-9,"f":0.057},{"g":"CircLigase","v":"1 µl","d":-8,"f":0.062},{"g":"CircLigase","v":"1 µl","d":-7,"f":0.069},{"g":"CircLigase","v":"1 µl","d":-6,"f":0.078},{"g":"CircLigase","v":"1 µl","d":-5,"f":0.098},{"g":"CircLigase","v":"1 µl","d":-4,"f":0.125},{"g":"CircLigase","v":"1 µl","d":-3,"f":0.18},{"g":"CircLigase","v":"1 µl","d":-2,"f":0.26},{"g":"CircLigase","v":"1 µl","d":-1,"f":0.35},{"g":"CircLigase","v":"1 µl","d":0,"f":0.45},
        {"g":"CircLigase","v":"3 µl","d":-15,"f":0.044},{"g":"CircLigase","v":"3 µl","d":-14,"f":0.04},{"g":"CircLigase","v":"3 µl","d":-13,"f":0.046},{"g":"CircLigase","v":"3 µl","d":-12,"f":0.045},{"g":"CircLigase","v":"3 µl","d":-11,"f":0.049},{"g":"CircLigase","v":"3 µl","d":-10,"f":0.055},{"g":"CircLigase","v":"3 µl","d":-9,"f":0.056},{"g":"CircLigase","v":"3 µl","d":-8,"f":0.061},{"g":"CircLigase","v":"3 µl","d":-7,"f":0.07},{"g":"CircLigase","v":"3 µl","d":-6,"f":0.077},{"g":"CircLigase","v":"3 µl","d":-5,"f":0.1},{"g":"CircLigase","v":"3 µl","d":-4,"f":0.126},{"g":"CircLigase","v":"3 µl","d":-3,"f":0.182},{"g":"CircLigase","v":"3 µl","d":-2,"f":0.27},{"g":"CircLigase","v":"3 µl","d":-1,"f":0.37},{"g":"CircLigase","v":"3 µl","d":0,"f":0.48},
        {"g":"CircLigase","v":"9 µl","d":-15,"f":0.042},{"g":"CircLigase","v":"9 µl","d":-14,"f":0.043},{"g":"CircLigase","v":"9 µl","d":-13,"f":0.044},{"g":"CircLigase","v":"9 µl","d":-12,"f":0.046},{"g":"CircLigase","v":"9 µl","d":-11,"f":0.047},{"g":"CircLigase","v":"9 µl","d":-10,"f":0.053},{"g":"CircLigase","v":"9 µl","d":-9,"f":0.058},{"g":"CircLigase","v":"9 µl","d":-8,"f":0.06},{"g":"CircLigase","v":"9 µl","d":-7,"f":0.068},{"g":"CircLigase","v":"9 µl","d":-6,"f":0.079},{"g":"CircLigase","v":"9 µl","d":-5,"f":0.099},{"g":"CircLigase","v":"9 µl","d":-4,"f":0.124},{"g":"CircLigase","v":"9 µl","d":-3,"f":0.181},{"g":"CircLigase","v":"9 µl","d":-2,"f":0.265},{"g":"CircLigase","v":"9 µl","d":-1,"f":0.375},{"g":"CircLigase","v":"9 µl","d":0,"f":0.5},
        {"g":"CircLigase","v":"27 µl","d":-15,"f":0.045},{"g":"CircLigase","v":"27 µl","d":-14,"f":0.042},{"g":"CircLigase","v":"27 µl","d":-13,"f":0.046},{"g":"CircLigase","v":"27 µl","d":-12,"f":0.044},{"g":"CircLigase","v":"27 µl","d":-11,"f":0.05},{"g":"CircLigase","v":"27 µl","d":-10,"f":0.054},{"g":"CircLigase","v":"27 µl","d":-9,"f":0.057},{"g":"CircLigase","v":"27 µl","d":-8,"f":0.062},{"g":"CircLigase","v":"27 µl","d":-7,"f":0.069},{"g":"CircLigase","v":"27 µl","d":-6,"f":0.078},{"g":"CircLigase","v":"27 µl","d":-5,"f":0.1},{"g":"CircLigase","v":"27 µl","d":-4,"f":0.128},{"g":"CircLigase","v":"27 µl","d":-3,"f":0.185},{"g":"CircLigase","v":"27 µl","d":-2,"f":0.28},{"g":"CircLigase","v":"27 µl","d":-1,"f":0.49},{"g":"CircLigase","v":"27 µl","d":0,"f":0.7}
       ]},
       "encoding": {
        "x": {"field": "d", "type": "quantitative", "scale": {"domain": [-15, 0], "nice": false}, "axis": {"values": [-15,-14,-13,-12,-11,-10,-9,-8,-7,-6,-5,-4,-3,-2,-1,0], "labelExpr": "datum.value % 5 === 0 ? datum.label : ''", "title": "Distance to 3' end", "tickSize": 6, "labelPadding": 10, "titlePadding": 12}},
        "y": {"field": "f", "type": "quantitative", "scale": {"domain": [0, 0.8], "nice": false}, "axis": {"orient": "right", "values": [0,0.1,0.2,0.3,0.4,0.5,0.6,0.7,0.8], "labelExpr": "round(datum.value * 10) % 2 === 0 ? format(datum.value, '~g') : ''", "title": "C to T substitution frequency", "titlePadding": 5}},
        "color": {"field": "g", "type": "nominal", "scale": {"domain": ["T4 DNA ligase", "CircLigase"], "range": ["#f06a22", "#3a66e4"]}, "legend": null},
        "strokeDash": {"field": "v", "type": "nominal", "scale": {"domain": ["1 µl", "3 µl", "9 µl", "27 µl"], "range": [[1.5, 1.5], [12, 10], [7, 3], [1, 0]]}, "legend": null}
       },
       "layer": [
        {"transform": [{"filter": "datum.g == 'CircLigase'"}], "mark": {"type": "line", "strokeWidth": 1.6}},
        {"transform": [{"filter": "datum.g == 'T4 DNA ligase'"}], "mark": {"type": "line", "strokeWidth": 1.6}}
       ]
      }
     ]
    }
   ]
  }
 ]
}
